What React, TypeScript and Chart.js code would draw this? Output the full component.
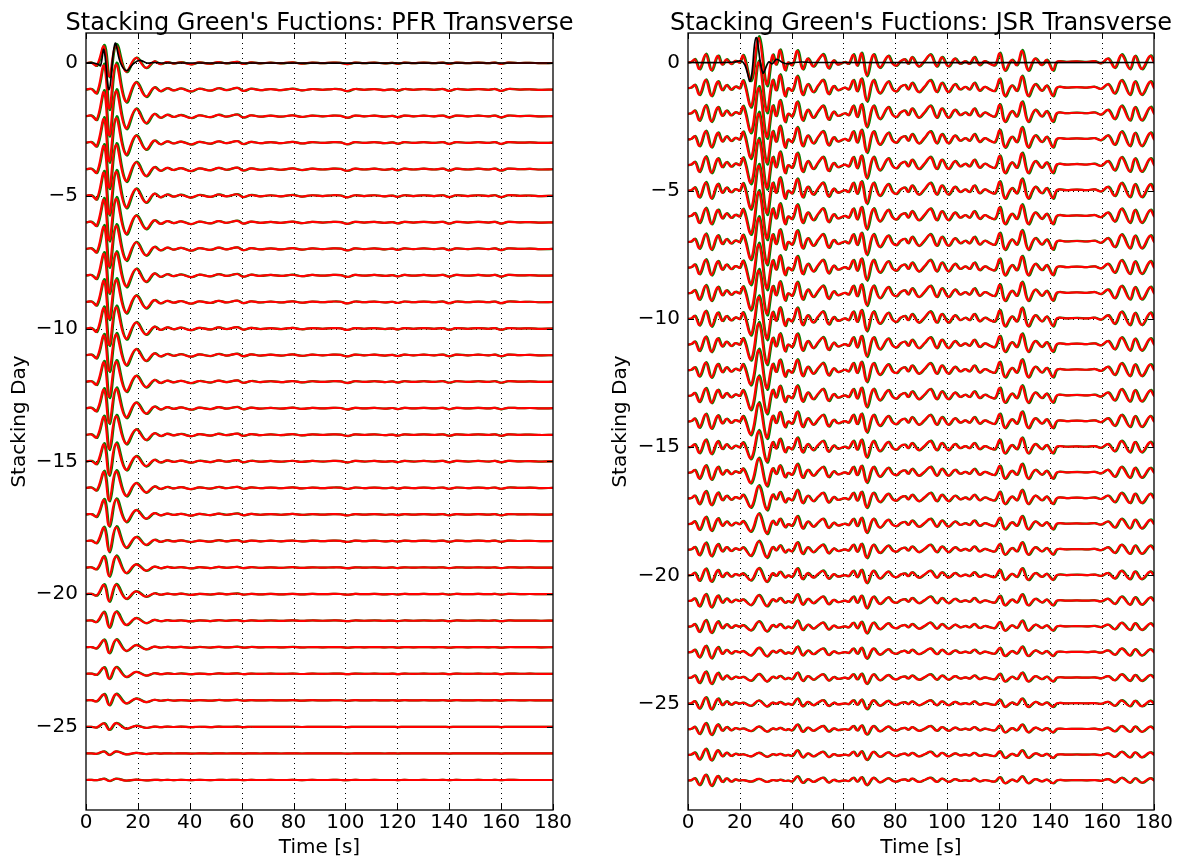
import { useEffect, useRef } from 'react';
import { Chart, registerables } from 'chart.js';

Chart.register(...registerables);

// ---- axes ----
const TIME_TICKS = [0, 20, 40, 60, 80, 100, 120, 140, 160, 180];
const DAY_TICKS = [0, -5, -10, -15, -20, -25];

// ---- PFR transverse ----
// reference Green's function (black), [time s, amplitude]
const PFR_REFERENCE: [number, number][] = [
  [0, 0], [3, 0], [4.8, -0.05], [5.6, -0.1], [6.9, 0.5], [8.9, -1.0], [11.2, 0.73],
  [13.3, 0.0], [15.7, -0.29], [18, -0.05], [20.6, 0.1], [23.5, 0.0], [26, 0.02],
  [30, 0], [180, 0],
];
// stacked waveform at unit gain, [time s, amplitude]
const PFR_STACK: [number, number][] = [
  [0, 0], [2, 0.02], [4.1, -0.13], [6.9, 0.9], [8.9, -0.72], [11.5, 0.94], [15.3, -0.45],
  [19.2, 0.27], [23.0, -0.26], [26.2, 0.08], [28.6, -0.06], [31.2, 0.05], [33.6, -0.03],
  [36.5, 0.04], [40.4, -0.07], [43.5, 0.03], [47.8, -0.04], [51, 0.05], [54, -0.02],
  [58.2, 0.06], [60.5, -0.05], [63.5, 0.03], [67, -0.02], [71, 0.02], [75, -0.02],
  [79.5, 0.03], [83, -0.03], [87, 0.02], [91, -0.01], [95, 0.02], [98, 0.01],
  [100.6, -0.06], [103.5, 0.02], [107, -0.01], [111, 0.02], [115, -0.02], [118, 0.01],
  [120, -0.04], [122.5, 0.02], [126, -0.01], [130, 0.02], [134, -0.01], [137.5, 0.02],
  [139.8, -0.05], [142.5, 0.02], [147, -0.01], [151, 0.02], [155, -0.01], [157.5, 0.02],
  [159.9, -0.05], [162.5, 0.02], [167, 0.0], [171, 0.01], [175, -0.01], [180, 0],
];
// gain of each stacking day 0 .. -27
const PFR_GAIN = [
  0.7, 1.0, 1.0, 0.98, 0.97, 0.96, 0.94, 0.92, 0.9, 0.88, 0.85, 0.82, 0.8, 0.77,
  0.74, 0.7, 0.66, 0.6, 0.55, 0.45, 0.38, 0.35, 0.3, 0.26, 0.25, 0.15, 0.08, 0.05,
];

// ---- JSR transverse ----
const JSR_REFERENCE: [number, number][] = [
  [0, 0], [15, 0], [18, 0.02], [20.5, 0.06], [22, -0.1], [24.1, -0.72], [26.3, 0.97],
  [28.9, -0.4], [31.2, 0.02], [32.5, -0.05], [34.2, 0.12], [36.5, 0.0], [38.2, -0.05],
  [41, 0.0], [44, 0.02], [48, 0], [180, 0],
];
// early part of the stacked waveform (0-20 s)
const JSR_EARLY: [number, number][] = [
  [0, 0], [1.2, 0.02], [2.6, 0.12], [4.4, -0.25], [6.8, 0.32], [9.0, -0.3], [11.4, 0.25],
  [13.2, -0.08], [14.8, 0.12], [16.6, -0.06], [18.2, 0.06], [19.6, 0],
];
// main arrival (20-38 s)
const JSR_MAIN: [number, number][] = [
  [20, 0], [21.3, 0.28], [24.3, -0.7], [27.3, 1.0], [30.3, -0.9], [32.6, 0.3], [34.0, -0.08],
  [35.5, 0.5], [37.4, -0.3], [38.6, 0],
];
// coda (38-180 s)
const JSR_CODA: [number, number][] = [
  [40.2, -0.1], [42.2, 0.45], [44.2, -0.25], [46.2, 0.15], [48.3, -0.15], [50.2, 0.1],
  [52.2, 0.3], [54.2, -0.22], [56.2, 0.08], [57.8, -0.08], [60.5, 0.02], [62, -0.05],
  [63.8, 0.3], [65.3, -0.12], [67, 0.35], [69, -0.5], [71.5, 0.3], [74, -0.2], [77.2, 0.25],
  [79, -0.05], [80.5, -0.12], [82, 0.05], [83.7, 0.12], [85, -0.05], [86.5, 0.2], [89, -0.15],
  [91.2, 0.05], [93.6, 0.3], [96, -0.15], [98, 0.2], [100.5, -0.15], [103, 0.15], [105, -0.05],
  [107, 0.05], [108.7, -0.05], [110.5, 0.2], [112.5, -0.1], [114.5, 0.05], [116.5, -0.05],
  [118.5, -0.1], [120.4, 0.35], [122.3, -0.3], [125, 0.1], [127, -0.1], [129, 0.45],
  [131.3, -0.3], [134, 0.15], [136.6, -0.1], [138.5, 0.1], [140.9, -0.3], [142.5, 0.03],
  [146, 0.02], [150, 0.04], [154, 0.02], [157, 0.05], [159.5, -0.03], [162.2, 0.15],
  [164.8, -0.2], [167.4, 0.3], [170.6, -0.25], [172.6, 0.25], [175.2, -0.25], [178.4, 0.25],
  [180, 0],
];
// gains of each stacking day 0 .. -28
const JSR_EARLY_GAIN = [
  1.0, 1.0, 1.0, 1.0, 1.0, 1.0, 0.98, 0.97, 0.96, 0.95, 0.95, 0.93, 0.92, 0.9, 0.9,
  0.88, 0.87, 0.85, 0.84, 0.82, 0.8, 0.8, 0.78, 0.76, 0.75, 0.74, 0.72, 0.7, 0.68,
];
const JSR_MAIN_GAIN = [
  0.95, 1.0, 1.0, 1.0, 0.98, 0.97, 0.95, 0.93, 0.9, 0.88, 0.85, 0.82, 0.78, 0.74, 0.7,
  0.62, 0.55, 0.48, 0.4, 0.33, 0.27, 0.22, 0.2, 0.17, 0.15, 0.12, 0.1, 0.08, 0.06,
];
const JSR_CODA_GAIN = [
  1.0, 1.0, 1.0, 1.0, 1.0, 0.98, 0.97, 0.96, 0.95, 0.93, 0.92, 0.9, 0.88, 0.85, 0.82,
  0.78, 0.74, 0.7, 0.66, 0.62, 0.58, 0.55, 0.5, 0.47, 0.45, 0.42, 0.4, 0.38, 0.35,
];

// second stack (green) lags slightly and is a little stronger
const GREEN_LAG = 0.35;
const GREEN_GAIN = 1.08;

const FONT = { family: '"DejaVu Sans", sans-serif', size: 20 };
const minus = (v: number) => (v < 0 ? '\u2212' + Math.abs(v) : String(v));

type Pt = { x: number; y: number };
type Part = { wave: [number, number][]; gain: number[] };

function trace(parts: Part[], row: number, lag: number, k: number): Pt[] {
  const pts: Pt[] = [];
  for (const p of parts) {
    for (const [t, v] of p.wave) pts.push({ x: t + lag, y: -row + k * p.gain[row] * v });
  }
  return pts;
}

function buildDatasets(parts: Part[], rows: number, reference: [number, number][]) {
  const ds: any[] = [];
  ds.push({
    data: reference.map(([t, v]) => ({ x: t, y: v })),
    borderColor: '#000000', borderWidth: 1.7, order: 0,
  });
  for (let r = 0; r < rows; r++) {
    ds.push({ data: trace(parts, r, 0, 1), borderColor: '#ff0000', borderWidth: 2.2, order: 1 });
    ds.push({ data: trace(parts, r, GREEN_LAG, GREEN_GAIN), borderColor: '#008000', borderWidth: 2.2, order: 2 });
  }
  return ds;
}

// dotted grid, framed box with inward ticks, and the panel title
const axesFrame = {
  id: 'axesFrame',
  beforeDatasetsDraw(chart: any, _a: any, opts: any) {
    const { ctx, chartArea: a, scales } = chart;
    ctx.save();
    ctx.strokeStyle = '#000';
    ctx.lineWidth = 1;
    ctx.setLineDash([1, 4]);
    for (const v of opts.xTicks) {
      const px = Math.round(scales.x.getPixelForValue(v)) + 0.5;
      if (px <= a.left + 1 || px >= a.right - 1) continue;
      ctx.beginPath(); ctx.moveTo(px, a.top); ctx.lineTo(px, a.bottom); ctx.stroke();
    }
    for (const v of opts.yTicks) {
      const py = Math.round(scales.y.getPixelForValue(v)) + 0.5;
      ctx.beginPath(); ctx.moveTo(a.left, py); ctx.lineTo(a.right, py); ctx.stroke();
    }
    ctx.restore();
  },
  afterDraw(chart: any, _a: any, opts: any) {
    const { ctx, chartArea: a, scales } = chart;
    ctx.save();
    ctx.strokeStyle = '#000';
    ctx.lineWidth = 1.3;
    ctx.setLineDash([]);
    ctx.strokeRect(a.left, a.top, a.right - a.left, a.bottom - a.top);
    const L = 6;
    ctx.lineWidth = 1;
    for (const v of opts.xTicks) {
      const px = Math.round(scales.x.getPixelForValue(v)) + 0.5;
      ctx.beginPath();
      ctx.moveTo(px, a.bottom); ctx.lineTo(px, a.bottom - L);
      ctx.moveTo(px, a.top); ctx.lineTo(px, a.top + L);
      ctx.stroke();
    }
    for (const v of opts.yTicks) {
      const py = Math.round(scales.y.getPixelForValue(v)) + 0.5;
      ctx.beginPath();
      ctx.moveTo(a.left, py); ctx.lineTo(a.left + L, py);
      ctx.moveTo(a.right, py); ctx.lineTo(a.right - L, py);
      ctx.stroke();
    }
    ctx.fillStyle = '#000';
    ctx.font = '24px "DejaVu Sans", sans-serif';
    ctx.textAlign = 'center';
    ctx.textBaseline = 'alphabetic';
    ctx.fillText(opts.title, (a.left + a.right) / 2, 30);
    ctx.restore();
  },
};

type PanelSpec = {
  title: string;
  parts: Part[];
  rows: number;
  reference: [number, number][];
  yMin: number;
  yMax: number;
  yWidth: number;
  padRight: number;
  yTitlePad: number;
};

const PFR_PANEL: PanelSpec = {
  title: "Stacking Green's Fuctions: PFR Transverse",
  parts: [{ wave: PFR_STACK, gain: PFR_GAIN }],
  rows: PFR_GAIN.length,
  reference: PFR_REFERENCE,
  yMin: -28.13, yMax: 1.13, yWidth: 86, padRight: 36, yTitlePad: 8,
};

const JSR_PANEL: PanelSpec = {
  title: "Stacking Green's Fuctions: JSR Transverse",
  parts: [
    { wave: JSR_EARLY, gain: JSR_EARLY_GAIN },
    { wave: JSR_MAIN, gain: JSR_MAIN_GAIN },
    { wave: JSR_CODA, gain: JSR_CODA_GAIN },
  ],
  rows: JSR_EARLY_GAIN.length,
  reference: JSR_REFERENCE,
  yMin: -29.15, yMax: 1.15, yWidth: 99, padRight: 24, yTitlePad: 20,
};

function buildConfig(p: PanelSpec): any {
  return {
    type: 'line',
    data: { datasets: buildDatasets(p.parts, p.rows, p.reference) },
    options: {
      animation: false,
      responsive: false,
      devicePixelRatio: 1,
      events: [],
      layout: { padding: { left: 0, right: p.padRight, top: 33, bottom: 0 } },
      elements: {
        point: { radius: 0 },
        line: { tension: 0.4, borderCapStyle: 'round', borderJoinStyle: 'round', fill: false },
      },
      plugins: {
        legend: { display: false },
        tooltip: { enabled: false },
        title: { display: false },
        axesFrame: { title: p.title, xTicks: TIME_TICKS, yTicks: DAY_TICKS },
      },
      scales: {
        x: {
          type: 'linear', min: 0, max: 180,
          afterBuildTicks: (s: any) => { s.ticks = TIME_TICKS.map((v) => ({ value: v })); },
          afterFit: (s: any) => { s.height = 49; },
          grid: { display: false, drawTicks: false },
          border: { display: false },
          ticks: { font: FONT, color: '#000', padding: 1, maxRotation: 0, autoSkip: false, callback: (v: any) => String(v) },
          title: { display: true, text: 'Time [s]', font: FONT, color: '#000', padding: { top: 0, bottom: -1 } },
        },
        y: {
          type: 'linear', min: p.yMin, max: p.yMax,
          afterBuildTicks: (s: any) => { s.ticks = DAY_TICKS.map((v) => ({ value: v })); },
          afterFit: (s: any) => { s.width = p.yWidth; },
          grid: { display: false, drawTicks: false },
          border: { display: false },
          ticks: { font: FONT, color: '#000', padding: 8, autoSkip: false, callback: (v: any) => minus(v) },
          title: { display: true, text: 'Stacking Day', font: FONT, color: '#000', padding: { top: p.yTitlePad, bottom: 0 } },
        },
      },
    },
    plugins: [axesFrame],
  };
}

function Panel({ spec, left }: { spec: PanelSpec; left: number }) {
  const ref = useRef<HTMLCanvasElement>(null);
  useEffect(() => {
    const chart = new Chart(ref.current as HTMLCanvasElement, buildConfig(spec));
    return () => chart.destroy();
  }, [spec]);
  return (
    <canvas
      ref={ref}
      width={589}
      height={859}
      style={{ position: 'absolute', left, top: 0, width: 589, height: 859 }}
    />
  );
}

export default function App() {
  return (
    <div style={{ position: 'fixed', left: 0, top: 0, width: 1178, height: 859, background: '#fff' }}>
      <Panel spec={PFR_PANEL} left={0} />
      <Panel spec={JSR_PANEL} left={589} />
    </div>
  );
}
